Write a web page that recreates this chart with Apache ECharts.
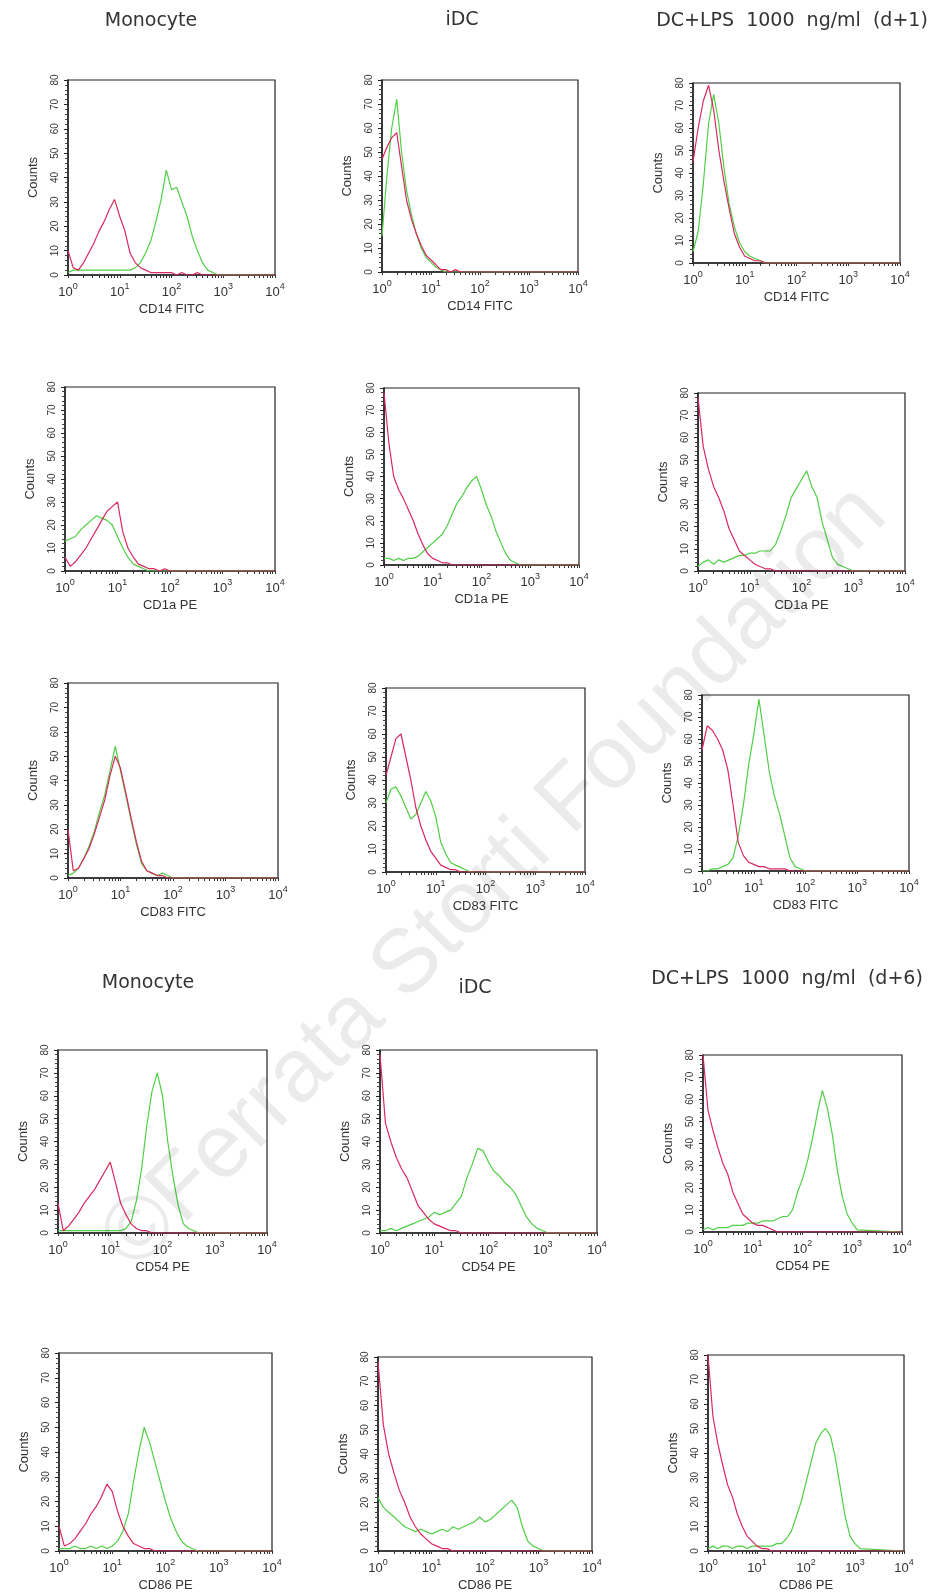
<!DOCTYPE html>
<html>
<head>
<meta charset="utf-8">
<title>Flow cytometry histograms</title>
<script src="https://cdn.jsdelivr.net/npm/echarts@6/dist/echarts.min.js"></script>
<style>
  html, body { margin: 0; padding: 0; background: #fff; }
  #chart { width: 934px; height: 1593px; }
</style>
</head>
<body>
<div id="chart"></div>
<script>
// fluorescence channels (log scale): 10 per decade up to 10^3, then 1260 and 10^4
const channels = [1,1.26,1.58,2,2.51,3.16,3.98,5.01,6.31,7.94, 10,12.6,15.8,20,25.1,31.6,39.8,50.1,63.1,79.4, 100,126,158,200,251,316,398,501,631,794, 1000,1260,10000];

// counts, red = isotype control, green = marker
const mono_cd14_red  = [10,3,2,5,9,13,18,22,27,31, 24,18,9,5,3,2,1,1,1,1, 1,0,1,0,0,1,0,0,0,0, 0,0,0];
const mono_cd14_grn  = [1,2,2,2,2,2,2,2,2,2, 2,2,2,3,5,9,14,22,31,43, 35,36,30,24,16,10,5,2,1,0, 0,0,0];
const idc_cd14_red   = [47,52,56,58,44,30,22,16,11,7, 5,3,1,1,0,1,0,0,0,0, 0,0,0,0,0,0,0,0,0,0, 0,0,0];
const idc_cd14_grn   = [15,40,60,72,50,34,24,16,10,6, 4,2,1,0,0,0,0,0,0,0, 0,0,0,0,0,0,0,0,0,0, 0,0,0];
const lps1_cd14_red  = [45,60,72,79,68,50,36,24,13,7, 3,2,1,1,0,0,0,0,0,0, 0,0,0,0,0,0,0,0,0,0, 0,0,0];
const lps1_cd14_grn  = [5,14,35,62,75,62,42,26,16,9, 5,3,2,1,0,0,0,0,0,0, 0,0,0,0,0,0,0,0,0,0, 0,0,0];

const mono_cd1a_red  = [6,2,4,7,10,14,18,22,26,28, 30,17,10,6,3,2,1,1,0,1, 0,0,0,0,0,0,0,0,0,0, 0,0,0];
const mono_cd1a_grn  = [13,14,15,18,20,22,24,23,22,20, 15,10,6,3,2,1,0,0,0,0, 0,0,0,0,0,0,0,0,0,0, 0,0,0];
const idc_cd1a_red   = [78,55,40,34,30,25,20,14,9,5, 3,2,1,1,0,0,0,0,0,0, 0,0,0,0,0,0,0,0,0,0, 0,0,0];
const idc_cd1a_grn   = [3,3,2,3,2,3,3,4,6,8, 10,12,14,18,23,28,31,35,38,40, 34,27,22,15,10,5,2,1,0,0, 0,0,0];
const lps1_cd1a_red  = [78,56,46,38,33,27,19,14,9,7, 5,3,2,1,1,0,0,0,0,0, 0,0,0,0,0,0,0,0,0,0, 0,0,0];
const lps1_cd1a_grn  = [2,4,5,3,5,4,5,6,7,7, 8,8,9,9,9,12,18,25,33,37, 41,45,38,33,22,14,6,3,2,1, 0,0,0];

const mono_cd83_red  = [20,3,4,8,12,18,25,32,42,50, 45,35,25,15,7,3,2,1,1,0, 0,0,0,0,0,0,0,0,0,0, 0,0,0];
const mono_cd83_grn  = [1,2,4,8,13,19,27,34,44,54, 44,34,24,14,6,3,2,1,2,1, 0,0,0,0,0,0,0,0,0,0, 0,0,0];
const idc_cd83_red   = [42,50,58,60,50,40,28,20,14,9, 6,3,2,1,1,0,0,0,0,0, 0,0,0,0,0,0,0,0,0,0, 0,0,0];
const idc_cd83_grn   = [30,36,37,33,28,23,25,30,35,31, 24,13,8,4,3,2,1,0,0,0, 0,0,0,0,0,0,0,0,0,0, 0,0,0];
const lps1_cd83_red  = [55,66,64,60,55,46,30,13,7,4, 3,2,2,1,1,1,1,0,0,0, 0,0,0,0,0,0,0,0,0,0, 0,0,0];
const lps1_cd83_grn  = [0,0,1,1,2,3,6,16,30,48, 62,78,62,45,34,26,16,6,2,1, 0,0,0,0,0,0,0,0,0,0, 0,0,0];

const mono_cd54_red  = [13,1,3,6,9,13,16,19,23,27, 31,22,13,8,4,2,1,1,0,0, 0,0,0,0,0,0,0,0,0,0, 0,0,0];
const mono_cd54_grn  = [1,1,1,1,1,1,1,1,1,1, 1,1,1,2,5,14,28,47,62,70, 60,40,25,12,4,2,1,0,0,0, 0,0,0];
const idc_cd54_red   = [78,48,40,33,28,24,18,12,9,6, 4,3,2,1,1,0,0,0,0,0, 0,0,0,0,0,0,0,0,0,0, 0,0,0];
const idc_cd54_grn   = [1,1,2,1,2,3,4,5,6,7, 9,8,9,10,13,16,24,30,37,36, 31,27,25,22,20,17,12,7,4,2, 1,0,0];
const lps6_cd54_red  = [80,55,46,38,31,26,18,13,8,6, 4,3,3,2,1,0,0,0,0,0, 0,0,0,0,0,0,0,0,0,0, 0,0,0];
const lps6_cd54_grn  = [1,2,1,2,2,2,3,3,3,4, 4,4,5,5,5,6,7,7,10,18, 24,32,42,54,64,56,44,28,16,8, 4,1,0];

const mono_cd86_red  = [10,2,3,5,8,11,15,18,22,27, 24,16,10,6,3,2,1,1,0,0, 0,0,0,0,0,0,0,0,0,0, 0,0,0];
const mono_cd86_grn  = [1,1,1,2,1,1,2,1,2,1, 2,4,8,15,28,40,50,44,36,28, 20,13,8,4,2,1,0,0,0,0, 0,0,0];
const idc_cd86_red   = [78,52,40,32,25,20,14,10,7,5, 3,2,1,1,0,0,0,0,0,0, 0,0,0,0,0,0,0,0,0,0, 0,0,0];
const idc_cd86_grn   = [22,18,16,14,12,10,9,8,9,8, 7,8,9,8,10,9,10,11,12,14, 12,13,15,17,19,21,18,10,4,2, 1,0,0];
const lps6_cd86_red  = [80,55,44,35,27,22,15,10,6,4, 2,1,1,0,0,0,0,0,0,0, 0,0,0,0,0,0,0,0,0,0, 0,0,0];
const lps6_cd86_grn  = [1,2,1,2,2,1,2,2,1,2, 2,2,2,2,3,3,5,8,14,20, 28,36,44,48,50,47,38,26,14,6, 3,1,0];

// x-axis tick positions (log minor ticks)
const logTicks = [1,2,3,4,5,6,7,8,9, 10,20,30,40,50,60,70,80,90, 100,200,300,400,500,600,700,800,900, 1000,2000,3000,4000,5000,6000,7000,8000,9000, 10000];
const markers = ['CD14 FITC', 'CD1a PE', 'CD83 FITC', 'CD54 PE', 'CD86 PE'];
const headersTop = ['Monocyte', 'iDC', 'DC+LPS  1000  ng/ml  (d+1)'];
const headersBottom = ['Monocyte', 'iDC', 'DC+LPS  1000  ng/ml  (d+6)'];

const panels = [
  [mono_cd14_red, mono_cd14_grn], [idc_cd14_red, idc_cd14_grn], [lps1_cd14_red, lps1_cd14_grn],
  [mono_cd1a_red, mono_cd1a_grn], [idc_cd1a_red, idc_cd1a_grn], [lps1_cd1a_red, lps1_cd1a_grn],
  [mono_cd83_red, mono_cd83_grn], [idc_cd83_red, idc_cd83_grn], [lps1_cd83_red, lps1_cd83_grn],
  [mono_cd54_red, mono_cd54_grn], [idc_cd54_red, idc_cd54_grn], [lps6_cd54_red, lps6_cd54_grn],
  [mono_cd86_red, mono_cd86_grn], [idc_cd86_red, idc_cd86_grn], [lps6_cd86_red, lps6_cd86_grn]
];

// plot boxes: left, top, width, height (px)
const boxes = [
  [68, 80, 207, 195], [382, 80, 196, 192], [693, 83, 207, 180],
  [65, 387, 210, 184], [384, 388, 195, 177], [698, 393, 207, 178],
  [68, 683, 210, 195], [386, 688, 199, 184], [702, 695, 207, 176],
  [58, 1050, 209, 183], [380, 1050, 217, 183], [703, 1055, 199, 177],
  [59, 1353, 213, 212], [378, 1357, 214, 208], [708, 1355, 196, 205]
];

var myChart = echarts.init(document.getElementById('chart'));

var grids = [], xAxes = [], yAxes = [], series = [];
boxes.forEach(function (b, i) {
  grids.push({
    left: b[0], top: b[1], width: b[2], height: b[3],
    show: true, borderColor: '#222', borderWidth: 1.2, backgroundColor: 'transparent'
  });
  xAxes.push({
    gridIndex: i, type: 'log', logBase: 10, min: 1, max: 10000,
    axisLine: { onZero: false, lineStyle: { color: '#222', width: 1.5 } },
    axisTick: { show: true, length: 3, customValues: logTicks, lineStyle: { color: '#333' } },
    axisLabel: {
      color: '#333', fontSize: 13, fontFamily: 'Liberation Sans', margin: 7, lineHeight: 20,
      formatter: function (v) { return '10{s|' + Math.round(Math.log10(v)) + '}'; },
      rich: { s: { fontSize: 9, lineHeight: 8, verticalAlign: 'top', fontFamily: 'Liberation Sans', color: '#333' } }
    },
    splitLine: { show: false },
    name: markers[Math.floor(i / 3)], nameLocation: 'middle', nameGap: 28,
    nameTextStyle: { color: '#333', fontSize: 13, fontFamily: 'Liberation Sans' }
  });
  yAxes.push({
    gridIndex: i, type: 'value', min: 0, max: 80, interval: 10,
    axisLine: { show: true, lineStyle: { color: '#222', width: 1.5 } },
    axisTick: { show: true, length: 4, lineStyle: { color: '#222' } },
    minorTick: { show: true, splitNumber: 5, length: 3, lineStyle: { color: '#444' } },
    axisLabel: { rotate: 90, color: '#333', fontSize: 10, fontFamily: 'Liberation Sans', margin: 8 },
    splitLine: { show: false },
    name: 'Counts', nameLocation: 'middle', nameGap: 28,
    nameTextStyle: { color: '#333', fontSize: 13, fontFamily: 'Liberation Sans' }
  });
  var pair = panels[i];
  series.push({
    type: 'line', xAxisIndex: i, yAxisIndex: i, showSymbol: false, symbol: 'none',
    lineStyle: { color: '#4fcf45', width: 1.2 },
    data: channels.map(function (c, j) { return [c, pair[1][j]]; })
  });
  series.push({
    type: 'line', xAxisIndex: i, yAxisIndex: i, showSymbol: false, symbol: 'none',
    lineStyle: { color: '#d9285c', width: 1.2 },
    data: channels.map(function (c, j) { return [c, pair[0][j]]; })
  });
});

var titleFont = '19px "DejaVu Sans"';
function header(text, x, y) {
  return {
    type: 'text', x: x, y: y, silent: true,
    style: { text: text, font: titleFont, fill: '#333', align: 'center', verticalAlign: 'middle' }
  };
}

var option = {
  animation: false,
  backgroundColor: '#fff',
  grid: grids,
  xAxis: xAxes,
  yAxis: yAxes,
  series: series,
  graphic: [
    header(headersTop[0], 151, 21),
    header(headersTop[1], 462, 20),
    header(headersTop[2], 792, 21),
    header(headersBottom[0], 148, 983),
    header(headersBottom[1], 475, 988),
    header(headersBottom[2], 787, 979),
    {
      type: 'text', x: 495, y: 878, rotation: Math.PI / 4, silent: true, z: 100,
      style: {
        text: '©Ferrata Storti Foundation', font: '90px "Liberation Sans"',
        fill: 'rgba(0,0,0,0.08)', align: 'center', verticalAlign: 'middle'
      }
    }
  ]
};
myChart.setOption(option);
</script>
</body>
</html>
